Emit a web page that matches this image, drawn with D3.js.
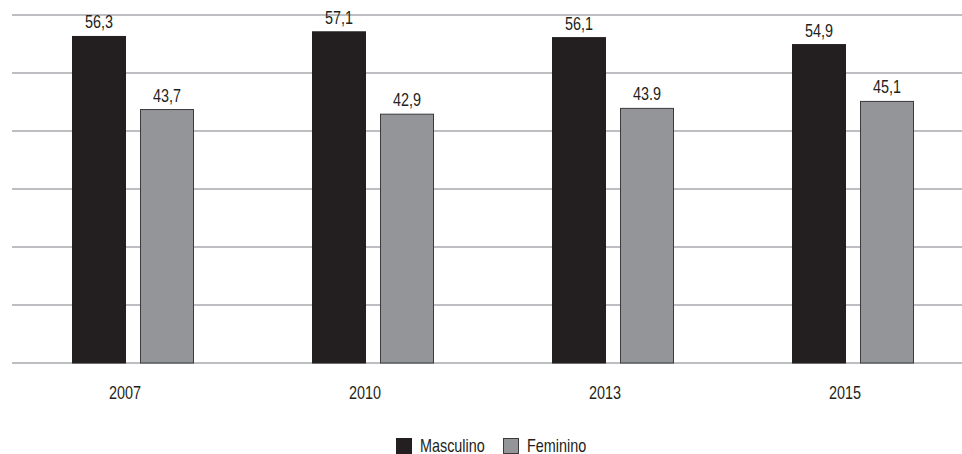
<!DOCTYPE html>
<html>
<head>
<meta charset="utf-8">
<script src="https://cdn.jsdelivr.net/npm/d3@7"></script>
<style>
  html, body { margin: 0; padding: 0; background: #fff; }
  svg text { font-family: "Liberation Sans", Arial, sans-serif; fill: #231f20; }
</style>
</head>
<body>
<svg id="chart" width="962" height="454"></svg>
<script>
// Years on the x axis
const years = ["2007", "2010", "2013", "2015"];
// Share by sex (%)
const masculino = [56.3, 57.1, 56.1, 54.9];
const feminino = [43.7, 42.9, 43.9, 45.1];
// Value labels as printed
const masculinoLabels = ["56,3", "57,1", "56,1", "54,9"];
const femininoLabels = ["43,7", "42,9", "43.9", "45,1"];
const seriesNames = ["Masculino", "Feminino"];
const gridTicks = [0, 10, 20, 30, 40, 50, 60];

const svg = d3.select("#chart");
const W = 962;
const NARROW = 0.8; // horizontal squeeze for a condensed look
const FS = 18;

const x = d3.scaleBand().domain(years).range([12, 972]);
const y = d3.scaleLinear().domain([0, 60]).range([363, 15]);

const colors = { Masculino: "#231f20", Feminino: "#939598" };
const strokes = { Masculino: "#231f20", Feminino: "#3a3a3c" };

// Condensed text: positioned group, squeezed horizontally
function narrowText(sel, px, py, anchor, txt) {
  const g = sel.append("g")
    .attr("transform", `translate(${px},${py}) scale(${NARROW},1)`);
  g.append("text")
    .attr("text-anchor", anchor)
    .attr("font-size", FS)
    .text(txt);
  return g;
}

// Horizontal gridlines
svg.append("g").selectAll("line")
  .data(gridTicks)
  .join("line")
  .attr("x1", 12).attr("x2", W)
  .attr("y1", d => y(d)).attr("y2", d => y(d))
  .attr("stroke", "#a7a9ac")
  .attr("stroke-width", 1.6);

const barW = 53;
const offsets = { Masculino: -60, Feminino: 8 };

const rows = [];
years.forEach((yr, i) => {
  rows.push({ year: yr, s: "Masculino", v: masculino[i], label: masculinoLabels[i] });
  rows.push({ year: yr, s: "Feminino", v: feminino[i], label: femininoLabels[i] });
});

const cx = d => x(d.year) + x.bandwidth() / 2;

svg.append("g").selectAll("rect")
  .data(rows)
  .join("rect")
  .attr("x", d => cx(d) + offsets[d.s] + 0.5)
  .attr("y", d => y(d.v))
  .attr("width", barW)
  .attr("height", d => y(0) - y(d.v))
  .attr("fill", d => colors[d.s])
  .attr("stroke", d => strokes[d.s])
  .attr("stroke-width", 1);

// Value labels above bars
svg.append("g").selectAll("g")
  .data(rows)
  .join("g")
  .each(function (d) {
    narrowText(d3.select(this),
      cx(d) + offsets[d.s] + barW / 2 + 0.5,
      y(d.v) - 8,
      "middle", d.label);
  });

// Year labels
svg.append("g").selectAll("g")
  .data(years)
  .join("g")
  .each(function (d) {
    narrowText(d3.select(this), x(d) + x.bandwidth() / 2 - 7, 399, "middle", d);
  });

// Legend
const legendItems = [
  { name: seriesNames[0], x: 396 },
  { name: seriesNames[1], x: 503 }
];
const li = svg.append("g").selectAll("g").data(legendItems).join("g")
  .attr("transform", d => `translate(${d.x},438)`);
li.append("rect")
  .attr("x", 0.5).attr("y", 0.5)
  .attr("width", 15).attr("height", 15)
  .attr("fill", d => colors[d.name])
  .attr("stroke", d => strokes[d.name]);
li.each(function (d) {
  narrowText(d3.select(this), 24, 14, "start", d.name);
});
</script>
</body>
</html>
